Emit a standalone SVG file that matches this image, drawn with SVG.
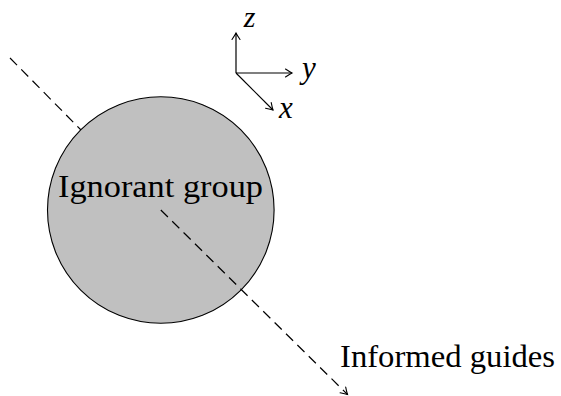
<svg xmlns="http://www.w3.org/2000/svg" width="561" height="396" viewBox="0 0 561 396">
  <defs>
    <marker id="arr" viewBox="-8 -5 10 10" refX="0" refY="0" markerWidth="10" markerHeight="10" markerUnits="userSpaceOnUse" orient="auto">
      <path d="M -6.5 -4 Q -2 -1 0 0 Q -2 1 -6.5 4" fill="none" stroke="#000" stroke-width="1.1" stroke-linecap="round"/>
    </marker>
  </defs>
  <style>
    .dash { stroke: #000; stroke-width: 1.2; stroke-dasharray: 10 6; fill: none; }
    .axis { stroke: #000; stroke-width: 1.2; fill: none; }
  </style>
  <rect width="561" height="396" fill="#fff"/>
  <g id="connectors">
    <line class="dash" x1="10" y1="58" x2="81" y2="130"/>
  </g>
  <g id="ignorant-group">
    <circle cx="160.8" cy="210" r="113.3" fill="#c0c0c0" stroke="#000" stroke-width="1.1"/>
    <text x="160.5" y="197" font-family="Liberation Serif, serif" font-size="31" text-anchor="middle" textLength="205" lengthAdjust="spacingAndGlyphs">Ignorant group</text>
  </g>
  <g id="guides-path">
    <line class="dash" x1="160.8" y1="210" x2="347.5" y2="394.5" marker-end="url(#arr)"/>
  </g>
  <g id="informed-guides">
    <text x="340" y="367" font-family="Liberation Serif, serif" font-size="31" textLength="215" lengthAdjust="spacingAndGlyphs">Informed guides</text>
  </g>
  <g id="axes">
    <line class="axis" x1="236" y1="73" x2="236" y2="33" marker-end="url(#arr)"/>
    <line class="axis" x1="236" y1="73" x2="292" y2="73" marker-end="url(#arr)"/>
    <line class="axis" x1="236" y1="73" x2="273" y2="110" marker-end="url(#arr)"/>
    <text x="249.5" y="27" font-family="Liberation Serif, serif" font-style="italic" font-size="30" text-anchor="middle">z</text>
    <text x="309" y="78" font-family="Liberation Serif, serif" font-style="italic" font-size="31" text-anchor="middle">y</text>
    <text x="286" y="118" font-family="Liberation Serif, serif" font-style="italic" font-size="31" text-anchor="middle">x</text>
  </g>
</svg>
